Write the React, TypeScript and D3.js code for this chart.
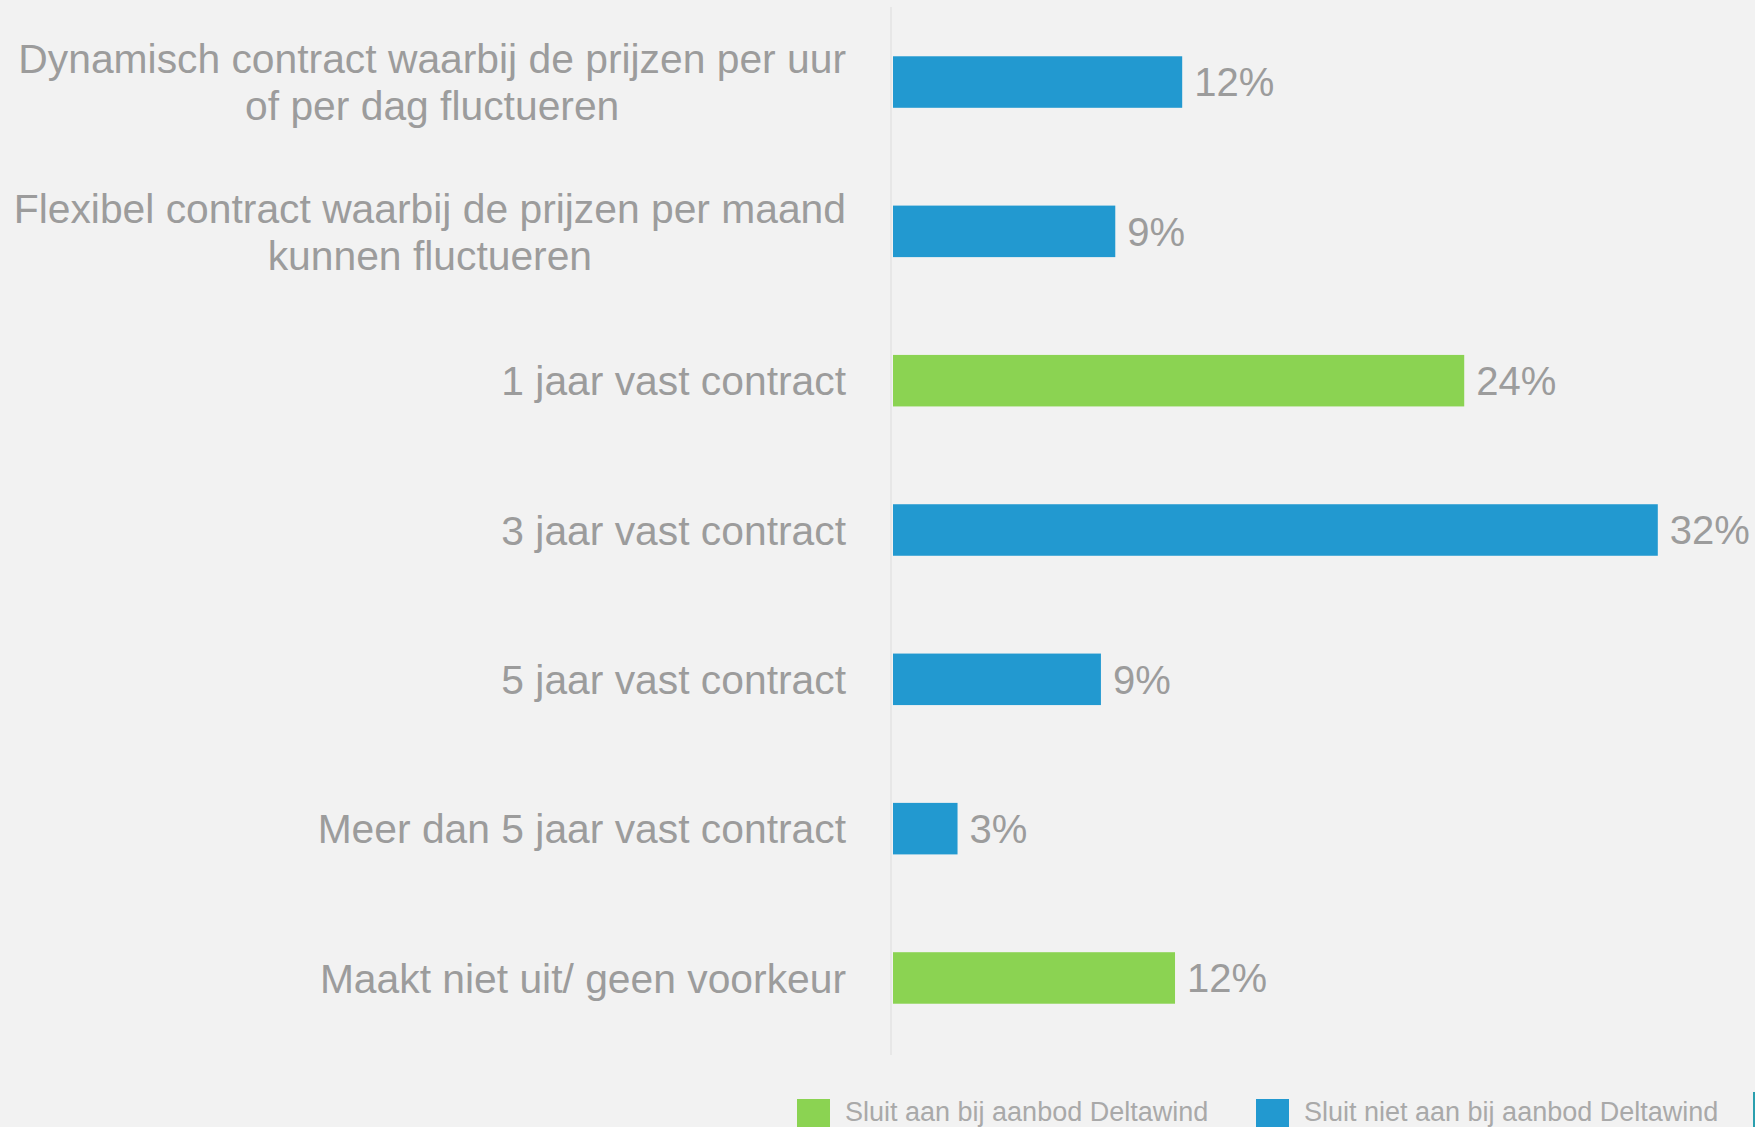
import React, { useEffect, useRef } from "react";
import * as d3 from "d3";

const categories: string[][] = [
  ["Dynamisch contract waarbij de prijzen per uur", "of per dag fluctueren"],
  ["Flexibel contract waarbij de prijzen per maand", "kunnen fluctueren"],
  ["1 jaar vast contract"],
  ["3 jaar vast contract"],
  ["5 jaar vast contract"],
  ["Meer dan 5 jaar vast contract"],
  ["Maakt niet uit/ geen voorkeur"],
];
const values: number[] = [12.1, 9.3, 23.9, 32.0, 8.7, 2.7, 11.8];
const valueLabels: string[] = ["12%", "9%", "24%", "32%", "9%", "3%", "12%"];
const groups: string[] = ["niet", "niet", "aan", "niet", "niet", "niet", "aan"];
const legendKeys: string[] = ["aan", "niet"];
const legendLabels: string[] = [
  "Sluit aan bij aanbod Deltawind",
  "Sluit niet aan bij aanbod Deltawind",
];

const W = 1755;
const H = 1127;
const BG = "#f2f2f2";
const colors: Record<string, string> = { aan: "#8bd352", niet: "#2299d0" };
const FONT = "'Liberation Sans', Arial, Helvetica, sans-serif";

export default function App() {
  const ref = useRef<SVGSVGElement | null>(null);

  useEffect(() => {
    document.body.style.margin = "0";
    const svg = d3.select(ref.current!);
    svg.selectAll("*").remove();

    const x = d3.scaleLinear().domain([0, 33]).range([893, 1681.7]);
    const ids = categories.map((_, i) => String(i));
    const y = d3
      .scaleBand<string>()
      .domain(ids)
      .range([7, 1053])
      .paddingInner(0.655)
      .paddingOuter(0.33);

    svg.append("rect").attr("width", W).attr("height", H).attr("fill", BG);

    // axis line
    svg
      .append("line")
      .attr("x1", 891)
      .attr("x2", 891)
      .attr("y1", 7)
      .attr("y2", 1055)
      .attr("stroke", "#e3e3e3")
      .attr("stroke-width", 1.5);

    // bars
    svg
      .append("g")
      .selectAll("rect")
      .data(values)
      .join("rect")
      .attr("x", x(0))
      .attr("y", (_, i) => y(ids[i])!)
      .attr("width", (d) => x(d) - x(0))
      .attr("height", y.bandwidth())
      .attr("fill", (_, i) => colors[groups[i]]);

    // value labels
    svg
      .append("g")
      .selectAll("text")
      .data(values)
      .join("text")
      .attr("x", (d) => x(d) + 12)
      .attr("y", (_, i) => y(ids[i])! + y.bandwidth() / 2)
      .attr("dy", "0.36em")
      .attr("font-family", FONT)
      .attr("font-size", 40)
      .attr("fill", "#9c9c9c")
      .text((_, i) => valueLabels[i]);

    // category labels
    const labelRight = 846;
    const lineGap = 47;
    const lg = svg.append("g");
    categories.forEach((lines, i) => {
      const cy = y(ids[i])! + y.bandwidth() / 2;
      const texts = lines.map((line, j) =>
        lg
          .append("text")
          .attr("y", cy + (j - (lines.length - 1) / 2) * lineGap)
          .attr("dy", "0.36em")
          .attr("font-family", FONT)
          .attr("font-size", 40.8)
          .attr("fill", "#9c9c9c")
          .text(line)
      );
      const widths = texts.map((t) => (t.node() as SVGTextElement).getComputedTextLength());
      const maxW = Math.max(...widths);
      texts.forEach((t) => {
        t.attr("text-anchor", "middle").attr("x", labelRight - maxW / 2);
      });
    });

    // legend
    const legendX = [797, 1256];
    const leg = svg.append("g");
    legendKeys.forEach((k, i) => {
      leg
        .append("rect")
        .attr("x", legendX[i])
        .attr("y", 1099)
        .attr("width", 33)
        .attr("height", 40)
        .attr("fill", colors[k]);
      leg
        .append("text")
        .attr("x", legendX[i] + 48)
        .attr("y", 1121)
        .attr("font-family", FONT)
        .attr("font-size", 27)
        .attr("fill", "#a9a9a9")
        .text(legendLabels[i]);
    });

    // right edge line
    svg
      .append("rect")
      .attr("x", 1753)
      .attr("y", 1092)
      .attr("width", 2)
      .attr("height", 35)
      .attr("fill", "#2a9fae");
  }, []);

  return (
    <div style={{ position: "absolute", left: 0, top: 0 }}>
      <svg ref={ref} width={W} height={H} style={{ display: "block" }} />
    </div>
  );
}
